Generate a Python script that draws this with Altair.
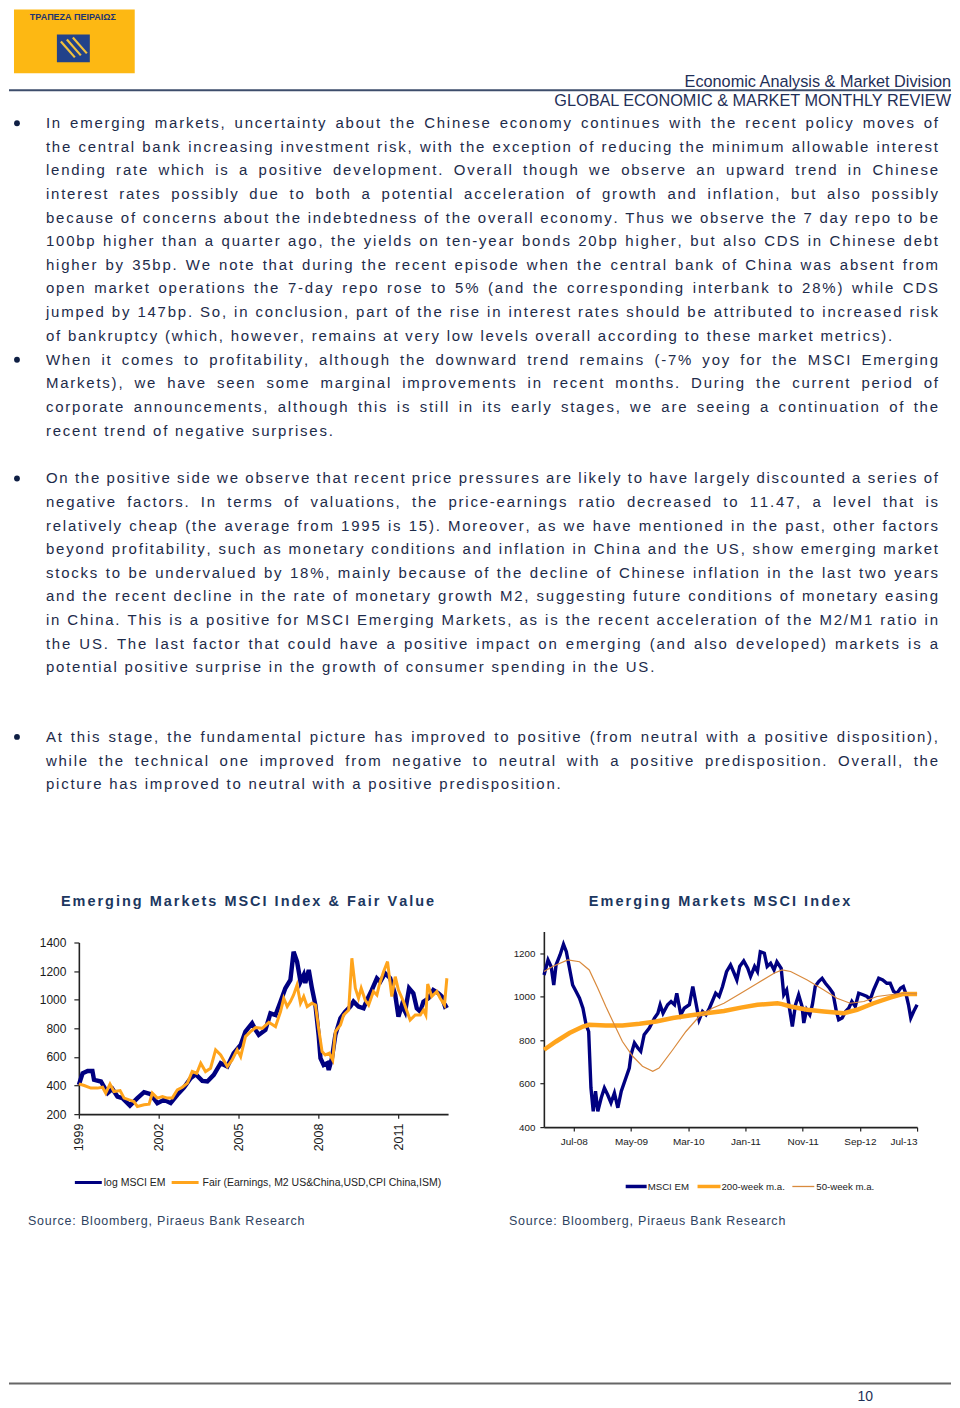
import altair as alt
import pandas as pd

FONT = "Liberation Sans"
NAVY = "#000080"
ORANGE = "#FFA41C"
ORANGE_THIN = "#D98A3D"
TEXT = "#1d2b4a"
HEAD = "#1f2f57"
TITLE = "#1c3760"
SRC = "#2e4260"

# ---------------- left chart data (decimal years) ----------------
em_years = [1999.00, 1999.14, 1999.33, 1999.51, 1999.57, 1999.83, 2000.08, 2000.26, 2000.45, 2000.64,
            2000.92, 2001.20, 2001.45, 2001.70, 2001.95, 2002.20, 2002.45, 2002.70, 2002.95, 2003.20,
            2003.39, 2003.64, 2003.83, 2004.07, 2004.33, 2004.58, 2004.82, 2005.08, 2005.26, 2005.51,
            2005.64, 2005.76, 2006.01, 2006.20, 2006.39, 2006.58, 2006.76, 2006.95, 2007.07, 2007.20,
            2007.33, 2007.45, 2007.51, 2007.64, 2007.76, 2007.89, 2008.01, 2008.08, 2008.20, 2008.33,
            2008.39, 2008.51, 2008.64, 2008.83, 2009.01, 2009.20, 2009.32, 2009.51, 2009.70, 2009.83,
            2010.01, 2010.20, 2010.33, 2010.51, 2010.70, 2010.89, 2011.01, 2011.14, 2011.26, 2011.41,
            2011.57, 2011.70, 2011.83, 2011.95, 2012.14, 2012.32, 2012.51, 2012.64, 2012.76, 2012.86]
em_values = [405, 486, 502, 502, 440, 428, 347, 377, 323, 312,
             260, 312, 354, 340, 277, 300, 277, 335, 386, 451,
             479, 433, 428, 475, 556, 533, 626, 684, 777, 836,
             789, 754, 789, 905, 893, 987, 1080, 1138, 1336, 1266,
             1126, 1173, 1117, 1208, 1080, 963, 754, 591, 544, 556,
             509, 591, 754, 870, 917, 952, 987, 952, 940, 998,
             1068, 1150, 1126, 1185, 1150, 1033, 882, 963, 917, 1080,
             1045, 940, 917, 987, 1010, 1068, 1045, 1022, 952, 963]
fair_years = [1999.00, 1999.20, 1999.45, 1999.70, 1999.89, 2000.01, 2000.17, 2000.32, 2000.55, 2000.70,
              2000.89, 2001.07, 2001.20, 2001.45, 2001.64, 2001.76, 2001.95, 2002.14, 2002.33, 2002.51,
              2002.70, 2002.89, 2003.08, 2003.26, 2003.43, 2003.58, 2003.76, 2003.95, 2004.14, 2004.33,
              2004.58, 2004.76, 2004.95, 2005.08, 2005.26, 2005.45, 2005.64, 2005.89, 2006.14, 2006.39,
              2006.58, 2006.70, 2006.83, 2006.95, 2007.07, 2007.20, 2007.33, 2007.45, 2007.58, 2007.76,
              2007.89, 2008.01, 2008.14, 2008.26, 2008.41, 2008.54, 2008.64, 2008.83, 2008.95, 2009.14,
              2009.26, 2009.39, 2009.51, 2009.61, 2009.76, 2009.89, 2010.07, 2010.20, 2010.29, 2010.45,
              2010.60, 2010.76, 2010.89, 2011.01, 2011.20, 2011.45, 2011.64, 2011.83, 2011.95, 2012.04,
              2012.11, 2012.26, 2012.45, 2012.58, 2012.74, 2012.83]
fair_values = [412, 400, 382, 382, 388, 347, 410, 358, 365, 312,
               300, 288, 253, 265, 270, 347, 312, 323, 312, 312,
               370, 388, 417, 498, 486, 556, 498, 521, 649, 614,
               533, 579, 649, 602, 742, 777, 805, 800, 842, 812,
               917, 1010, 952, 987, 1033, 1103, 975, 1022, 952, 975,
               963, 800, 637, 614, 626, 579, 777, 823, 893, 928,
               1290, 1080, 1010, 1080, 998, 963, 1057, 1033, 1103, 1196,
               1266, 1022, 1161, 1068, 987, 858, 893, 893, 928, 893,
               1110, 1022, 1057, 1010, 963, 1150]
left_year_ticks = [1999, 2002, 2005, 2008, 2011]
left_value_ticks = [200, 400, 600, 800, 1000, 1200, 1400]

# ---------------- right chart data (months after Jul-2008) ----------------
msci_month = [-5.2, -4.5, -3.95, -3.5, -3.1, -2.4, -1.8, -1.3, -0.75, -0.2,
              0.4, 1.0, 1.6, 2.15, 2.6, 3.0, 3.4, 3.8, 4.2, 4.8,
              5.35, 5.9, 6.5, 7.1, 7.7, 8.3, 9.1, 9.7, 10.0, 10.6,
              11.2, 11.7, 12.3, 13.2, 14.1, 14.7, 15.1, 15.6, 16.4, 17.0,
              17.6, 18.0, 18.7, 19.3, 20.2, 20.8, 21.3, 21.9, 22.5, 23.1,
              23.7, 24.2, 24.8, 25.4, 26.0, 26.7, 27.4, 27.9, 28.5, 29.0,
              29.7, 30.4, 30.9, 31.6, 32.1, 32.6, 33.3, 33.8, 34.4, 35.0,
              35.5, 36.25, 36.7, 37.2, 37.6, 38.2, 38.75, 39.3, 39.9, 40.2,
              40.7, 41.25, 41.7, 42.2, 42.8, 43.4, 43.98, 44.7, 45.3, 45.9,
              46.3, 46.9, 47.5, 48.05, 48.6, 49.2, 49.8, 50.55, 51.25, 51.8,
              52.4, 53.3, 54.0, 54.7, 55.3, 55.9, 56.5, 57.1, 57.6, 58.1,
              58.5, 58.9, 59.4, 60.0]
msci_value = [1100, 1169, 1138, 1054, 1146, 1192, 1241, 1207, 1131, 1054,
              1024, 993, 947, 871, 840, 580, 473, 565, 473, 535,
              580, 550, 512, 557, 489, 565, 626, 672, 733, 787,
              764, 749, 825, 856, 902, 924, 963, 924, 963, 978,
              963, 1016, 917, 947, 963, 1047, 978, 894, 932, 917,
              947, 978, 1016, 1001, 1047, 1115, 1146, 1116, 1077, 1139,
              1165, 1131, 1093, 1139, 1116, 1207, 1200, 1139, 1154, 1123,
              1161, 1131, 1009, 1031, 963, 863, 963, 1009, 955, 879,
              940, 917, 963, 1047, 1070, 1085, 1062, 1039, 1016, 932,
              894, 902, 932, 947, 978, 955, 1016, 1009, 1001, 986,
              1031, 1085, 1077, 1062, 1062, 1024, 1016, 1039, 1047, 1009,
              963, 902, 932, 963]
ma200_month = [-5.2, -3.1, -0.75, 1.6, 2.7, 5.6, 8.5, 11.5, 14.4, 17.3, 20.2, 23.1, 26.25,
               29.2, 32.1, 35.6, 36.4, 37.9, 40.8, 43.7, 47.2, 49.5, 52.4, 55.3, 57.6, 60.0]
ma200_value = [756, 794, 833, 863, 871, 868, 868, 876, 886, 902, 914, 924, 934,
               950, 963, 970, 966, 955, 940, 932, 924, 940, 970, 996, 1013, 1013]
ma50_month = [-5.2, -3.7, -1.05, 1.0, 2.7, 4.2, 5.6, 7.1, 8.5, 10.3, 12.0, 13.8, 14.9, 17.3,
              19.6, 21.9, 24.2, 26.25, 29.2, 32.1, 35.0, 36.4, 37.9, 40.8, 43.7, 46.0, 48.3,
              50.7, 53.0, 55.3, 57.6, 60.0]
ma50_value = [1116, 1139, 1169, 1161, 1123, 1039, 955, 871, 794, 726, 680, 657, 672, 756,
              840, 909, 947, 970, 1016, 1062, 1108, 1123, 1116, 1077, 1031, 993, 970,
              978, 1001, 1009, 1016, 1013]
right_month_ticks = [0, 10, 20, 30, 40, 50, 60]
right_month_labels = ["Jul-08", "May-09", "Mar-10", "Jan-11", "Nov-11", "Sep-12", "Jul-13"]
right_value_ticks = [400, 600, 800, 1000, 1200]

# ---------------- texts ----------------
bank_name = "ΤΡΑΠΕΖΑ ΠΕΙΡΑΙΩΣ"
header_1 = "Economic Analysis & Market Division"
header_2 = "GLOBAL ECONOMIC & MARKET MONTHLY REVIEW"
paragraph_1 = [
    "In emerging markets, uncertainty about the Chinese economy continues with the recent policy moves of",
    "the central bank increasing investment risk, with the exception of reducing the minimum allowable interest",
    "lending rate which is a positive development. Overall though we observe an upward trend in Chinese",
    "interest rates possibly due to both a potential acceleration of growth and inflation, but also possibly",
    "because of concerns about the indebtedness of the overall economy. Thus we observe the 7 day repo to be",
    "100bp higher than a quarter ago, the yields on ten-year bonds 20bp higher, but also CDS in Chinese debt",
    "higher by 35bp. We note that during the recent episode when the central bank of China was absent from",
    "open market operations the 7-day repo rose to 5% (and the corresponding interbank to 28%) while CDS",
    "jumped by 147bp. So, in conclusion, part of the rise in interest rates should be attributed to increased risk",
    "of bankruptcy (which, however, remains at very low levels overall according to these market metrics).",
]
paragraph_2 = [
    "When it comes to profitability, although the downward trend remains (-7% yoy for the MSCI Emerging",
    "Markets), we have seen some marginal improvements in recent months. During the current period of",
    "corporate announcements, although this is still in its early stages, we are seeing a continuation of the",
    "recent trend of negative surprises.",
]
paragraph_3 = [
    "On the positive side we observe that recent price pressures are likely to have largely discounted a series of",
    "negative factors. In terms of valuations, the price-earnings ratio decreased to 11.47, a level that is",
    "relatively cheap (the average from 1995 is 15). Moreover, as we have mentioned in the past, other factors",
    "beyond profitability, such as monetary conditions and inflation in China and the US, show emerging market",
    "stocks to be undervalued by 18%, mainly because of the decline of Chinese inflation in the last two years",
    "and the recent decline in the rate of monetary growth M2, suggesting future conditions of monetary easing",
    "in China. This is a positive for MSCI Emerging Markets, as is the recent acceleration of the M2/M1 ratio in",
    "the US. The last factor that could have a positive impact on emerging (and also developed) markets is a",
    "potential positive surprise in the growth of consumer spending in the US.",
]
paragraph_4 = [
    "At this stage, the fundamental picture has improved to positive (from neutral with a positive disposition),",
    "while the technical one improved from negative to neutral with a positive predisposition. Overall, the",
    "picture has improved to neutral with a positive predisposition.",
]
title_left = "Emerging Markets MSCI Index & Fair Value"
title_right = "Emerging Markets MSCI Index"
legend_left = ["log MSCI  EM", "Fair (Earnings, M2  US&China,USD,CPI  China,ISM)"]
legend_right = ["MSCI EM", "200-week m.a.", "50-week m.a."]
source_text = "Source: Bloomberg, Piraeus Bank Research"
page_number = "10"

# ---------------- font metrics (Arial/Liberation Sans advance widths per 1000 em) ----------------
HELV = {" ": 278, "!": 278, "%": 889, "&": 667, "'": 191, "(": 333, ")": 333, ",": 278, "-": 333,
        ".": 278, "/": 278, ":": 278, ";": 278, "?": 556,
        "A": 667, "B": 667, "C": 722, "D": 722, "E": 667, "F": 611, "G": 778, "H": 722, "I": 278,
        "J": 500, "K": 667, "L": 556, "M": 833, "N": 722, "O": 778, "P": 667, "Q": 778, "R": 722,
        "S": 667, "T": 611, "U": 722, "V": 667, "W": 944, "X": 667, "Y": 667, "Z": 611,
        "a": 556, "b": 556, "c": 500, "d": 556, "e": 556, "f": 278, "g": 556, "h": 556, "i": 222,
        "j": 222, "k": 500, "l": 222, "m": 833, "n": 556, "o": 556, "p": 556, "q": 556, "r": 333,
        "s": 500, "t": 278, "u": 556, "v": 500, "w": 722, "x": 500, "y": 500, "z": 500}
for d in "0123456789":
    HELV[d] = 556
HELVB = {" ": 278, "&": 722, "A": 722, "B": 722, "C": 722, "D": 722, "E": 667, "F": 611, "G": 778,
         "H": 722, "I": 278, "J": 556, "K": 722, "L": 611, "M": 833, "N": 722, "O": 778, "P": 667,
         "Q": 778, "R": 722, "S": 667, "T": 611, "U": 722, "V": 667, "W": 944, "X": 667, "Y": 667,
         "Z": 611, "a": 556, "b": 611, "c": 556, "d": 611, "e": 556, "f": 333, "g": 611, "h": 611,
         "i": 278, "j": 278, "k": 556, "l": 278, "m": 889, "n": 611, "o": 611, "p": 611, "q": 611,
         "r": 389, "s": 556, "t": 333, "u": 611, "v": 556, "w": 778, "x": 556, "y": 556, "z": 500}


def fit_track(text, fs, table, span):
    w = sum(table.get(c, 556) for c in text) * fs / 1000.0
    return (span - w) / (len(text) - 1)


def place(text, x0, yb, fs, track, table, x1=None):
    ws = [table.get(c, 556) * fs / 1000.0 for c in text]
    nat = sum(ws) + track * (len(text) - 1)
    gap = 0.0
    if x1 is not None and text.count(" "):
        gap = (x1 - x0 - nat) / text.count(" ")
    rows, x = [], x0
    for c, w in zip(text, ws):
        if c != " ":
            rows.append({"x": x, "y": yb, "t": c})
        x += w + track + (gap if c == " " else 0)
    return rows


def pix_scale(n):
    return alt.Scale(domain=[0, n], range=[0, n], nice=False, zero=False)


# ================= ROW A : all page text (origin at page 8,8) =================
WA, HA = 944, 935          # plot area ends at page y 943 (top of the left chart)
OX, OY = 8, 8
XA = alt.X("x:Q", scale=pix_scale(WA), axis=None)
YA = alt.Y("y:Q", scale=pix_scale(HA), axis=None)

BODY_FS = 15
BODY_TRACK = fit_track(paragraph_1[-1], BODY_FS, HELV, 893 - 45)
body_rows = []
for lines, y0 in [(paragraph_1, 122), (paragraph_2, 359), (paragraph_3, 478), (paragraph_4, 737)]:
    for i, line in enumerate(lines):
        yb = y0 + i * 23.65 + 5 - OY
        x1 = (939 - OX) if i < len(lines) - 1 else None
        body_rows += place(line, 45 - OX, yb, BODY_FS, BODY_TRACK, HELV, x1)
body_df = pd.DataFrame(body_rows)

TITLE_FS = 14.5
title_rows = place(title_left, 60 - OX, 906 - OY, TITLE_FS,
                   fit_track(title_left, TITLE_FS, HELVB, 434 - 60), HELVB)
title_rows += place(title_right, 589 - OX, 906 - OY, TITLE_FS,
                    fit_track(title_right, TITLE_FS, HELVB, 851 - 589), HELVB)
title_df = pd.DataFrame(title_rows)

SRC_FS = 12.5
src_track = fit_track(source_text, SRC_FS, HELV, 304 - 27)
src_df = pd.DataFrame(place(source_text, 27 - OX, 1226 - OY, SRC_FS, src_track, HELV) +
                      place(source_text, 509 - OX, 1226 - OY, SRC_FS, src_track, HELV))

header_df = pd.DataFrame({"x": [952 - OX, 952 - OX], "y": [85.5 - OY, 104.5 - OY],
                          "t": [header_1, header_2]})
bullet_df = pd.DataFrame({"x": [16 - OX] * 4, "y": [122 - OY, 359 - OY, 478 - OY, 737 - OY]})
rules_df = pd.DataFrame({"x": [0, 0], "x2": [952 - OX, 952 - OX], "y": [89 - OY, 1385 - OY],
                         "c": ["#3d4d6b", "#666666"]})
logo_df = pd.DataFrame({"x": [13 - OX, 56 - OX], "x2": [134 - OX, 89 - OX],
                        "y": [0, 33 - OY], "y2": [72 - OY, 61 - OY],
                        "c": ["#FDB813", "#22428A"]})
stripe_df = pd.DataFrame({"x": [60 - OX, 66 - OX, 72 - OX], "x2": [74 - OX, 80 - OX, 86 - OX],
                          "y": [40 - OY, 38 - OY, 36 - OY], "y2": [56 - OY, 54 - OY, 52 - OY]})
bank_df = pd.DataFrame({"x": [72 - OX], "y": [16 - OY], "t": [bank_name]})

leg_lines_df = pd.DataFrame({
    "x": [74 - OX, 171 - OX, 626 - OX, 698 - OX, 793 - OX],
    "x2": [101 - OX, 198 - OX, 647 - OX, 721 - OX, 815 - OX],
    "y": [1183.5 - OY, 1183.5 - OY, 1187.5 - OY, 1187.5 - OY, 1187.5 - OY],
    "c": [NAVY, ORANGE, NAVY, ORANGE, ORANGE_THIN],
    "w": [3, 3, 3.5, 3.5, 1.3]})
leg_left_df = pd.DataFrame({"x": [103 - OX, 202 - OX], "y": [1187 - OY] * 2, "t": legend_left})
leg_right_df = pd.DataFrame({"x": [648 - OX, 722 - OX, 817 - OX], "y": [1191 - OY] * 3,
                             "t": legend_right})
pnum_df = pd.DataFrame({"x": [866 - OX], "y": [1402 - OY], "t": [page_number]})

row_a = alt.layer(
    alt.Chart(logo_df).mark_rect().encode(x=XA, x2="x2:Q", y=YA, y2="y2:Q",
                                          color=alt.Color("c:N", scale=None)),
    alt.Chart(stripe_df).mark_rule(color="#F3C23C", strokeWidth=2.2).encode(
        x=XA, x2="x2:Q", y=YA, y2="y2:Q"),
    alt.Chart(bank_df).mark_text(font=FONT, fontSize=9, fontWeight="bold", color="#1d3570",
                                 align="center", baseline="middle").encode(x=XA, y=YA, text="t:N"),
    alt.Chart(rules_df).mark_rule(strokeWidth=2).encode(x=XA, x2="x2:Q", y=YA,
                                                        color=alt.Color("c:N", scale=None)),
    alt.Chart(header_df).mark_text(font=FONT, fontSize=16.3, color=HEAD, align="right",
                                   baseline="alphabetic").encode(x=XA, y=YA, text="t:N"),
    alt.Chart(bullet_df).mark_circle(size=34, color="#0f1f44", opacity=1).encode(x=XA, y=YA),
    alt.Chart(body_df).mark_text(font=FONT, fontSize=BODY_FS, color=TEXT, align="left",
                                 baseline="alphabetic").encode(x=XA, y=YA, text="t:N"),
    alt.Chart(title_df).mark_text(font=FONT, fontSize=TITLE_FS, fontWeight="bold", color=TITLE,
                                  align="left", baseline="alphabetic").encode(x=XA, y=YA, text="t:N"),
    alt.Chart(leg_lines_df).mark_rule().encode(x=XA, x2="x2:Q", y=YA,
                                               color=alt.Color("c:N", scale=None),
                                               strokeWidth=alt.StrokeWidth("w:Q", scale=None)),
    alt.Chart(leg_left_df).mark_text(font=FONT, fontSize=10.5, color="#222222", align="left",
                                     baseline="alphabetic").encode(x=XA, y=YA, text="t:N"),
    alt.Chart(leg_right_df).mark_text(font=FONT, fontSize=9.7, color="#222222", align="left",
                                      baseline="alphabetic").encode(x=XA, y=YA, text="t:N"),
    alt.Chart(src_df).mark_text(font=FONT, fontSize=SRC_FS, color=SRC, align="left",
                                baseline="alphabetic").encode(x=XA, y=YA, text="t:N"),
    alt.Chart(pnum_df).mark_text(font=FONT, fontSize=14, color=HEAD, align="center",
                                 baseline="alphabetic").encode(x=XA, y=YA, text="t:N"),
).properties(width=WA, height=HA)

# ================= ROW B : the two charts (top at page y 943) =================
em_df = pd.DataFrame({"x": em_years, "v": em_values})
fair_df = pd.DataFrame({"x": fair_years, "v": fair_values})
lx = alt.X("x:Q", scale=alt.Scale(domain=[1999, 2012.875], nice=False, zero=False),
           axis=alt.Axis(values=left_year_ticks, format="d", labelAngle=270, title=None, grid=False,
                         tickSize=4, labelPadding=5, labelFontSize=12.5, domainWidth=1.6))
ly = alt.Y("v:Q", scale=alt.Scale(domain=[200, 1400], nice=False, zero=False),
           axis=alt.Axis(values=left_value_ticks, format="d", title=None, grid=False, tickSize=5,
                         labelPadding=8, labelFontSize=12, domainWidth=1.6))
left_chart = alt.layer(
    alt.Chart(em_df).mark_line(color=NAVY, strokeWidth=4.4).encode(x=lx, y=ly),
    alt.Chart(fair_df).mark_line(color=ORANGE, strokeWidth=3).encode(x=lx, y=ly),
).properties(width=370, height=172)

label_expr = " : ".join("datum.value == %s ? '%s'" % (v, l)
                        for v, l in zip(right_month_ticks, right_month_labels)) + " : ''"
rx = alt.X("m:Q", scale=alt.Scale(domain=[-5.23, 60], nice=False, zero=False),
           axis=alt.Axis(values=right_month_ticks, labelExpr=label_expr, labelAngle=0, title=None,
                         grid=False, tickSize=4, labelPadding=5, labelFontSize=10, domainWidth=1.6))
# the right plot is 11 px taller than the left one: its top rises above the row top
ry = alt.Y("v:Q", scale=alt.Scale(domain=[400, 1300], range=[185, -11], nice=False, zero=False),
           axis=alt.Axis(values=right_value_ticks, format="d", title=None, grid=False, tickSize=4,
                         labelPadding=5, labelFontSize=9.8, domainWidth=1.6))
msci_df = pd.DataFrame({"m": msci_month, "v": msci_value})
ma200_df = pd.DataFrame({"m": ma200_month, "v": ma200_value})
ma50_df = pd.DataFrame({"m": ma50_month, "v": ma50_value})
right_chart = alt.layer(
    alt.Chart(msci_df).mark_line(color=NAVY, strokeWidth=3.4).encode(x=rx, y=ry),
    alt.Chart(ma200_df).mark_line(color=ORANGE, strokeWidth=4.5).encode(x=rx, y=ry),
    alt.Chart(ma50_df).mark_line(color=ORANGE_THIN, strokeWidth=1.2).encode(x=rx, y=ry),
).properties(width=374, height=185)


def spacer(w, h):
    return alt.Chart(pd.DataFrame({"a": [0]})).mark_point(opacity=0, size=1).encode(
        x=alt.value(w / 2), y=alt.value(h / 2)).properties(width=w, height=h)


row_b = alt.hconcat(spacer(70, 20), left_chart, spacer(96, 20), right_chart,
                    spacing=0, bounds="flush")

chart = alt.vconcat(row_a, row_b, spacing=0, bounds="flush").properties(
    padding=0, background="white"
).configure_view(strokeWidth=0).configure_axis(
    labelFont=FONT, labelColor="#1a1a1a", domainColor="#222222", tickColor="#222222",
    tickWidth=1.2, grid=False
)

chart.save("out.html", embed_options={"renderer": "svg", "actions": False})
